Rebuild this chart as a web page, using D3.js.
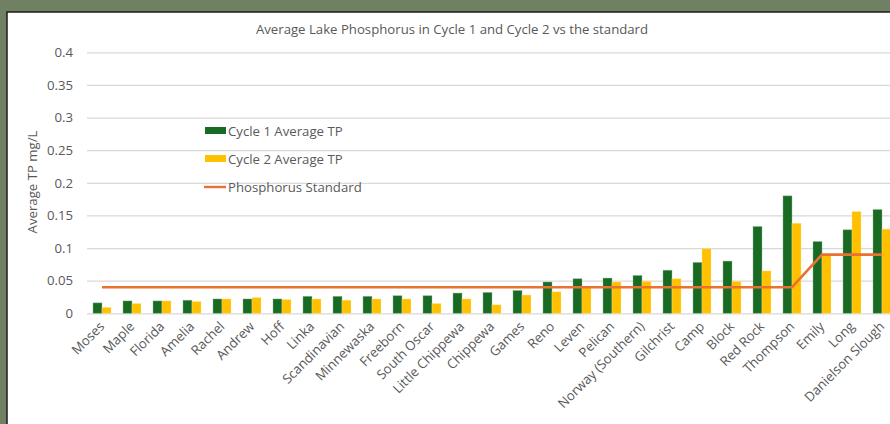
<!DOCTYPE html>
<html>
  <head>
    <meta charset="utf-8">
    <title>Average Lake Phosphorus</title>
    <script src="https://d3js.org/d3.v7.min.js"></script>
    <style>
      body { margin: 0; background: #6f8063; overflow: hidden; }
      svg { display: block; font-family: "Open Sans", sans-serif; }
    </style>
  </head>
  <body>
    <svg id="chart" width="890" height="424"></svg>
    <script>
      // data
      lakes = ["Moses", "Maple", "Florida", "Amelia", "Rachel", "Andrew", "Hoff", "Linka",
        "Scandinavian", "Minnewaska", "Freeborn", "South Oscar", "Little Chippewa", "Chippewa",
        "Games", "Reno", "Leven", "Pelican", "Norway (Southern)", "Gilchrist", "Camp", "Block",
        "Red Rock", "Thompson", "Emily", "Long", "Danielson Slough"];
      cycle1 = [0.016, 0.019, 0.019, 0.020, 0.022, 0.022, 0.022, 0.026, 0.026, 0.026, 0.027, 0.027,
        0.031, 0.032, 0.035, 0.048, 0.053, 0.054, 0.058, 0.066, 0.078, 0.080, 0.133, 0.180,
        0.110, 0.128, 0.159];
      cycle2 = [0.009, 0.015, 0.019, 0.018, 0.022, 0.024, 0.021, 0.022, 0.020, 0.022, 0.022, 0.015,
        0.022, 0.013, 0.028, 0.033, 0.039, 0.048, 0.049, 0.053, 0.099, 0.049, 0.065, 0.138,
        0.089, 0.156, 0.129];
      standard = [0.04, 0.04, 0.04, 0.04, 0.04, 0.04, 0.04, 0.04, 0.04, 0.04, 0.04, 0.04, 0.04,
        0.04, 0.04, 0.04, 0.04, 0.04, 0.04, 0.04, 0.04, 0.04, 0.04, 0.04, 0.09, 0.09, 0.09];
      seriesNames = ["Cycle 1 Average TP", "Cycle 2 Average TP"];
      yTicks = [0, 0.05, 0.1, 0.15, 0.2, 0.25, 0.3, 0.35, 0.4];

      colours = { c1: "#196b24", c2: "#ffc000", line: "#e97132", text: "#595959", grid: "#d9d9d9" };
      fontSize = "13.2px";

      svg = d3.select("#chart");

      // white chart panel
      svg.append("rect")
        .attr("x", 7).attr("y", 12)
        .attr("width", 900).attr("height", 430)
        .attr("fill", "#fff")
        .attr("stroke", "#1b1b1b")
        .attr("stroke-width", 1.5);

      // scales
      x0 = d3.scaleBand().domain(lakes).range([87, 897]).paddingInner(0.4).paddingOuter(0.2);
      x1 = d3.scaleBand().domain(seriesNames).range([0, x0.bandwidth()]);
      y = d3.scaleLinear().domain([0, 0.4]).range([313.3, 52.3]);

      // gridlines + y labels
      yAxis = svg.append("g")
        .attr("transform", "translate(87,0)")
        .call(d3.axisLeft(y).tickValues(yTicks).tickSize(-810).tickPadding(14)
          .tickFormat(d => d3.format("~g")(d)));
      yAxis.select(".domain").remove();
      yAxis.selectAll(".tick line").attr("stroke", colours.grid).attr("stroke-width", 1.3);
      yAxis.selectAll(".tick text")
        .attr("fill", colours.text)
        .style("font-size", fontSize)
        .style("font-family", "'Open Sans', sans-serif");

      // bars
      groups = svg.append("g").selectAll("g")
        .data(lakes)
        .join("g")
          .attr("transform", d => "translate(" + x0(d) + ",0)");
      groups.append("rect")
        .attr("x", x1(seriesNames[0]))
        .attr("width", x1.bandwidth())
        .attr("y", (d, i) => y(cycle1[i]))
        .attr("height", (d, i) => y(0) - y(cycle1[i]))
        .attr("fill", colours.c1)
        .attr("stroke", "#8fb894").attr("stroke-opacity", 0.5).attr("stroke-width", 0.8);
      groups.append("rect")
        .attr("x", x1(seriesNames[1]))
        .attr("width", x1.bandwidth())
        .attr("y", (d, i) => y(cycle2[i]))
        .attr("height", (d, i) => y(0) - y(cycle2[i]))
        .attr("fill", colours.c2)
        .attr("stroke", "#ffe699").attr("stroke-opacity", 0.5).attr("stroke-width", 0.8);

      // standard line
      line = d3.line()
        .x((d, i) => x0(lakes[i]) + x0.bandwidth() / 2)
        .y(d => y(d));
      svg.append("path")
        .datum(standard)
        .attr("d", line)
        .attr("fill", "none")
        .attr("stroke", colours.line)
        .attr("stroke-width", 2.6);

      // x labels
      svg.append("g").selectAll("text")
        .data(lakes)
        .join("text")
          .attr("transform", d => "translate(" + (x0(d) + x0.bandwidth() / 2) + ",324) rotate(-45)")
          .attr("text-anchor", "end")
          .attr("dy", "0.35em")
          .attr("fill", colours.text)
          .style("font-size", fontSize)
          .text(d => d);

      // title
      svg.append("text")
        .attr("x", 452).attr("y", 34)
        .attr("text-anchor", "middle")
        .attr("fill", colours.text)
        .style("font-size", fontSize)
        .text("Average Lake Phosphorus in Cycle 1 and Cycle 2 vs the standard");

      // y axis title
      svg.append("text")
        .attr("transform", "translate(37,182) rotate(-90)")
        .attr("text-anchor", "middle")
        .attr("fill", colours.text)
        .style("font-size", fontSize)
        .text("Average TP mg/L");

      // legend
      legend = svg.append("g");
      legend.append("rect").attr("x", 205).attr("y", 127).attr("width", 21).attr("height", 7).attr("fill", colours.c1);
      legend.append("rect").attr("x", 205).attr("y", 155).attr("width", 21).attr("height", 7).attr("fill", colours.c2);
      legend.append("line").attr("x1", 204).attr("x2", 226).attr("y1", 187).attr("y2", 187)
        .attr("stroke", colours.line).attr("stroke-width", 2.4);
      legendNames = [seriesNames[0], seriesNames[1], "Phosphorus Standard"];
      legend.selectAll("text")
        .data(legendNames)
        .join("text")
          .attr("x", 228)
          .attr("y", (d, i) => [131, 159, 187][i])
          .attr("dy", "0.35em")
          .attr("fill", colours.text)
          .style("font-size", fontSize)
          .text(d => d);
    </script>
  </body>
</html>
